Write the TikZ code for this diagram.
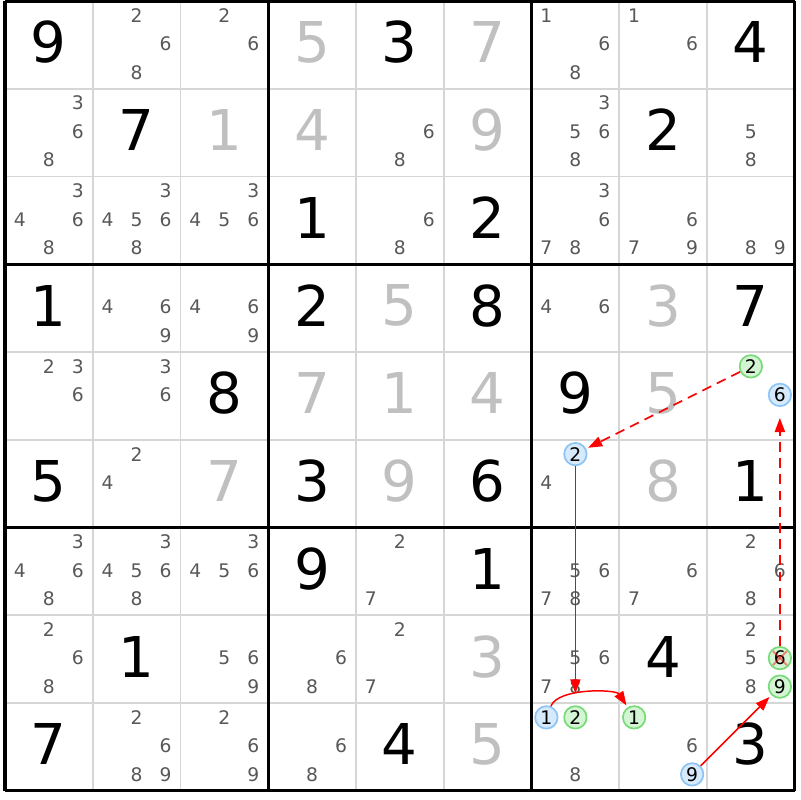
\documentclass[tikz,border=0pt]{standalone}
\usepackage{fontspec}
\setmainfont{DejaVu Sans}
\usetikzlibrary{arrows.meta}
\definecolor{solved}{RGB}{192,192,192}
\definecolor{cand}{RGB}{88,88,88}
\definecolor{thingrid}{RGB}{214,214,214}
\definecolor{bfill}{RGB}{214,234,252}
\definecolor{bline}{RGB}{140,196,245}
\definecolor{gfill}{RGB}{212,245,212}
\definecolor{gline}{RGB}{120,218,120}
\definecolor{linkred}{RGB}{255,0,0}
\begin{document}
\begin{tikzpicture}[x=0.025cm,y=-0.025cm,
  bigdigit/.style={inner sep=0pt,font=\fontsize{40}{40}\selectfont},
  givenbox/.style={bigdigit,text=black},
  solvedbox/.style={bigdigit,text=solved},
  candbox/.style={inner sep=0pt,font=\fontsize{13.3}{14}\selectfont,text=cand},
  circbase/.style={circle,line width=1.2pt,minimum size=16pt,inner sep=0pt,font=\fontsize{13.3}{14}\selectfont,text=black},
  bluecirc/.style={circbase,draw=bline,fill=bfill},
  greencirc/.style={circbase,draw=gline,fill=gfill},
  thinline/.style={draw=thingrid,line width=1.4pt},
  thickline/.style={draw=black,line width=2.2pt},
  solidlink/.style={draw=linkred,line width=1.05pt,-{Triangle[length=10pt,width=7.2pt]}},
  dashlink/.style={solidlink,line width=1.2pt,dash pattern=on 7pt off 4.5pt},
  xmark/.style={draw=linkred,opacity=0.45,line width=1.4pt}
]
\useasboundingbox (0,0) rectangle (800,800);
\fill[white] (0,0) rectangle (800,800);
% grid
\foreach \i in {1,2,4,5,7,8}{
  \draw[thinline] ({5+\i*87.75},1) -- ({5+\i*87.75},790.75);
  \draw[thinline] (5,{1+\i*87.75}) -- (794.75,{1+\i*87.75});
}
\foreach \i in {0,3,6,9}{
  \draw[thickline] ({5+\i*87.75},1) -- ({5+\i*87.75},790.75);
  \draw[thickline] (5,{1+\i*87.75}) -- (794.75,{1+\i*87.75});
}
% big digits
\foreach \r/\c/\d/\s in {
 1/1/9/givenbox, 1/4/5/solvedbox, 1/5/3/givenbox, 1/6/7/solvedbox, 1/9/4/givenbox,
 2/2/7/givenbox, 2/3/1/solvedbox, 2/4/4/solvedbox, 2/6/9/solvedbox, 2/8/2/givenbox,
 3/4/1/givenbox, 3/6/2/givenbox,
 4/1/1/givenbox, 4/4/2/givenbox, 4/5/5/solvedbox, 4/6/8/givenbox, 4/8/3/solvedbox, 4/9/7/givenbox,
 5/3/8/givenbox, 5/4/7/solvedbox, 5/5/1/solvedbox, 5/6/4/solvedbox, 5/7/9/givenbox, 5/8/5/solvedbox,
 6/1/5/givenbox, 6/3/7/solvedbox, 6/4/3/givenbox, 6/5/9/solvedbox, 6/6/6/givenbox, 6/8/8/solvedbox, 6/9/1/givenbox,
 7/4/9/givenbox, 7/6/1/givenbox,
 8/2/1/givenbox, 8/6/3/solvedbox, 8/8/4/givenbox,
 9/1/7/givenbox, 9/5/4/givenbox, 9/6/5/solvedbox, 9/9/3/givenbox}{
  \node[\s] (g\r\c) at ({5+(\c-0.5)*87.75},{1+(\r-0.5)*87.75-2.5}) {\d};
}
% plain candidates
\foreach \r/\c/\lst in {
 1/2/{2,6,8}, 1/3/{2,6}, 1/7/{1,6,8}, 1/8/{1,6},
 2/1/{3,6,8}, 2/5/{6,8}, 2/7/{3,5,6,8}, 2/9/{5,8},
 3/1/{3,4,6,8}, 3/2/{3,4,5,6,8}, 3/3/{3,4,5,6}, 3/5/{6,8}, 3/7/{3,6,7,8}, 3/8/{6,7,9}, 3/9/{8,9},
 4/2/{4,6,9}, 4/3/{4,6,9}, 4/7/{4,6},
 5/1/{2,3,6}, 5/2/{3,6},
 6/2/{2,4}, 6/7/{4},
 7/1/{3,4,6,8}, 7/2/{3,4,5,6,8}, 7/3/{3,4,5,6}, 7/5/{2,7}, 7/7/{5,6,7,8}, 7/8/{6,7}, 7/9/{2,6,8},
 8/1/{2,6,8}, 8/3/{5,6,9}, 8/4/{6,8}, 8/5/{2,7}, 8/7/{5,6,7,8}, 8/9/{2,5,8},
 9/2/{2,6,8,9}, 9/3/{2,6,9}, 9/4/{6,8}, 9/7/{8}, 9/8/{6}}{
  \foreach \k in \lst {
    \pgfmathtruncatemacro\sc{mod(\k-1,3)}
    \pgfmathtruncatemacro\sr{int((\k-1)/3+0.01)}
    \node[candbox] (c\r\c\k) at ({5+(\c-0.5)*87.75+(\sc-1)*29},{1+(\r-0.5)*87.75-1+(\sr-1)*28.5}) {\k};
  }
}
% highlighted candidates
\foreach \r/\c/\k/\s/\nm in {
 5/9/2/greencirc/A, 5/9/6/bluecirc/B, 6/7/2/bluecirc/C, 8/9/6/greencirc/D, 8/9/9/greencirc/E,
 9/7/1/bluecirc/F, 9/7/2/greencirc/G, 9/8/1/greencirc/H, 9/8/9/bluecirc/I}{
  \pgfmathtruncatemacro\sc{mod(\k-1,3)}
  \pgfmathtruncatemacro\sr{int((\k-1)/3+0.01)}
  \node[\s] (\nm) at ({5+(\c-0.5)*87.75+(\sc-1)*29},{1+(\r-0.5)*87.75-1+(\sr-1)*28.5}) {\k};
}
% elimination mark
\draw[xmark] ([shift={(-7,-7)}]D.center) -- ([shift={(7,7)}]D.center);
\draw[xmark] ([shift={(-7,7)}]D.center) -- ([shift={(7,-7)}]D.center);
% links
\draw[dashlink,shorten >=1.5pt] (A) -- (C);
\draw[dashlink,shorten >=7.8pt] (D) -- (B);
\draw[solidlink,shorten >=8.5pt] (C) -- (G);
\draw[solidlink,shorten >=1.5pt] (F) .. controls +(12,-30) and +(-18,-28) .. (H);
\draw[solidlink,shorten >=1.8pt] (I) -- (E);
\end{tikzpicture}
\end{document}
